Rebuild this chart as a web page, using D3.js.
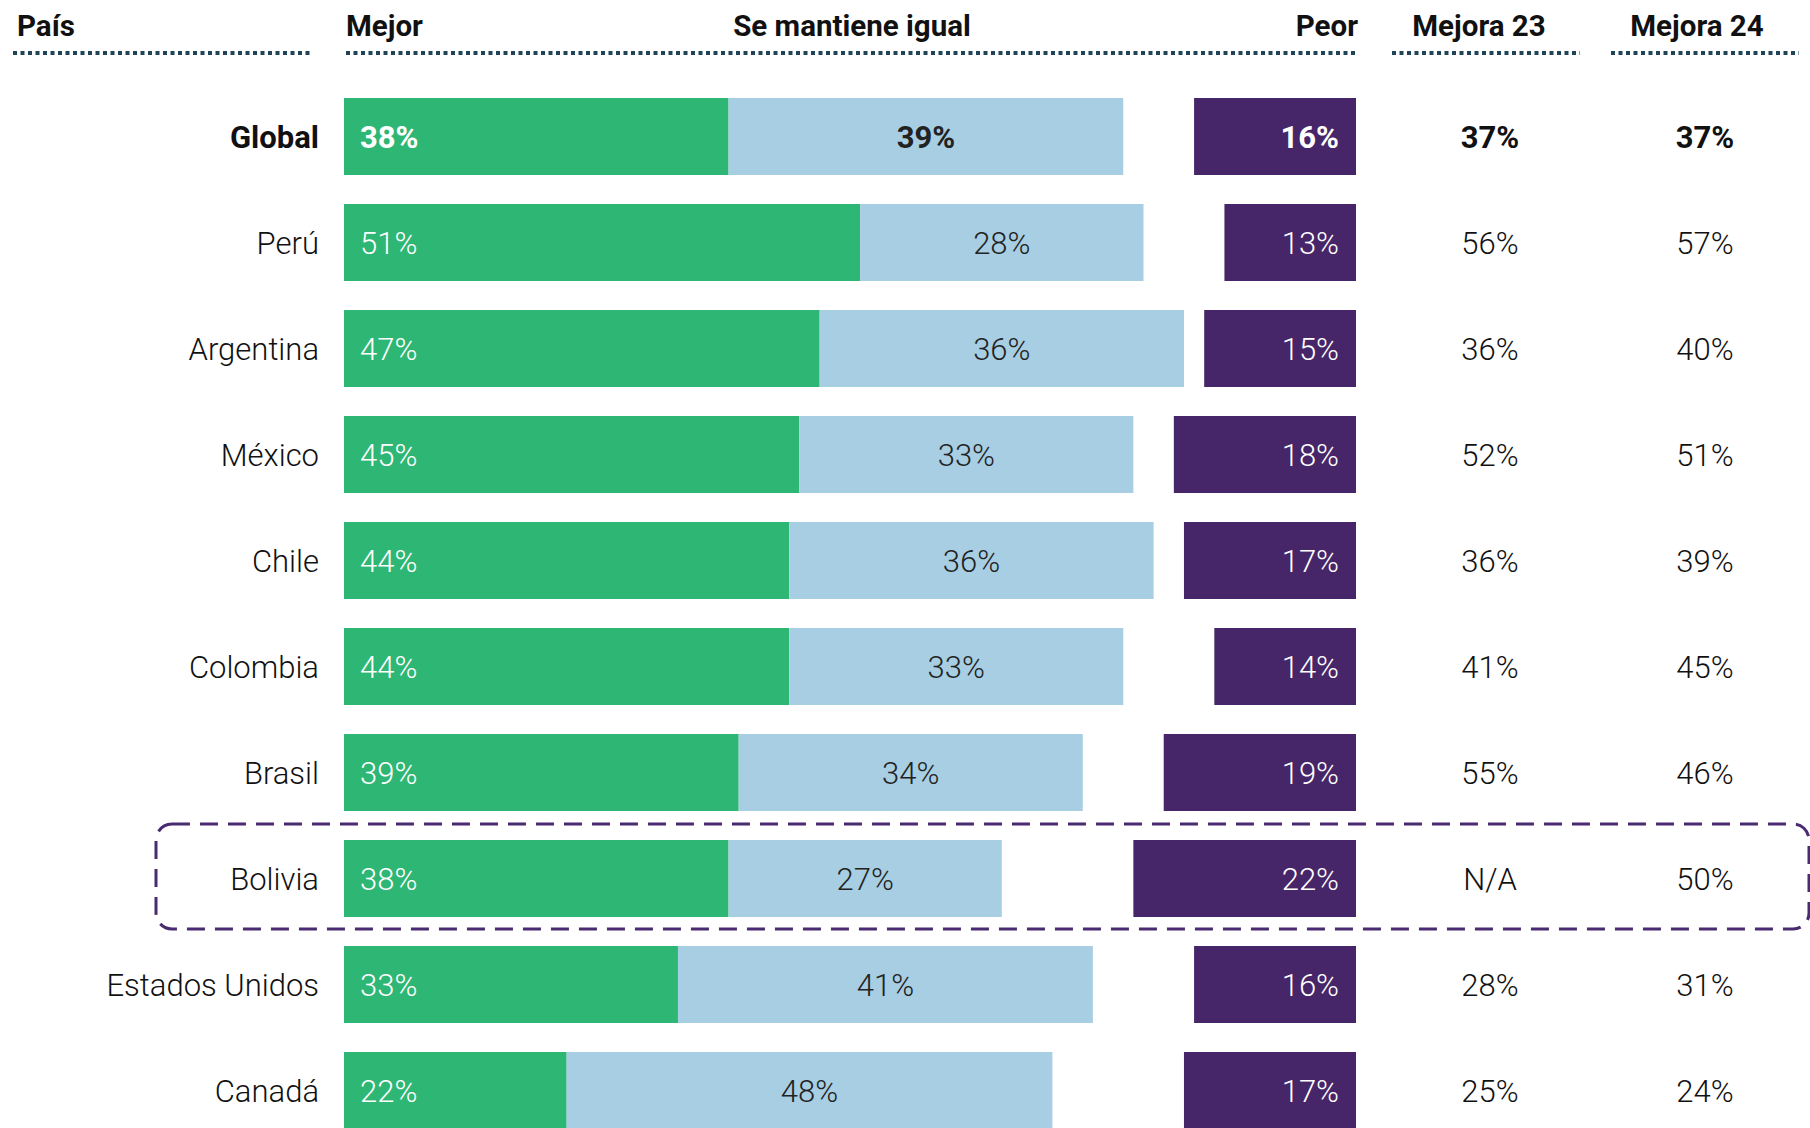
<!DOCTYPE html>
<html>
<head>
<meta charset="utf-8">
<script src="https://cdn.jsdelivr.net/npm/d3@7/dist/d3.min.js"></script>
<style>
  html, body { margin: 0; padding: 0; background: #ffffff; }
  svg { display: block; font-family: Roboto, "Noto Sans", sans-serif; }
</style>
</head>
<body>
<svg id="chart" width="1810" height="1128"></svg>
<script>
// ---- Data ----
const countries = ["Global", "Perú", "Argentina", "México", "Chile", "Colombia", "Brasil", "Bolivia", "Estados Unidos", "Canadá"];
const mejor  = [38, 51, 47, 45, 44, 44, 39, 38, 33, 22];
const igual  = [39, 28, 36, 33, 36, 33, 34, 27, 41, 48];
const peor   = [16, 13, 15, 18, 17, 14, 19, 22, 16, 17];
const mejora23 = ["37%", "56%", "36%", "52%", "36%", "41%", "55%", "N/A", "28%", "25%"];
const mejora24 = ["37%", "57%", "40%", "51%", "39%", "45%", "46%", "50%", "31%", "24%"];
const headers = ["País", "Mejor", "Se mantiene igual", "Peor", "Mejora 23", "Mejora 24"];
const highlighted = "Bolivia";

// ---- Layout ----
const svg = d3.select("#chart");
const barLeft = 344;
const peorRight = 1356;
const labelRight = 319;
const col23 = 1490, col24 = 1705;

const x = d3.scaleLinear().domain([0, 100]).range([0, 1012]);
const y = d3.scaleBand().domain(countries).range([98, 1129]).paddingInner(0.2736).paddingOuter(0);
const bw = y.bandwidth();

const colors = { mejor: "#2eb674", igual: "#a7cee2", peor: "#462568", dots: "#1f4457", box: "#4a2a70" };

const rows = countries.map((c, i) => ({
  country: c, mejor: mejor[i], igual: igual[i], peor: peor[i], m23: mejora23[i], m24: mejora24[i],
  bold: c === "Global"
}));

// ---- Headers ----
const hdrY = 36;
const hdr = svg.append("g").attr("font-weight", 700).attr("font-size", 29.5).attr("fill", "#111");
hdr.append("text").attr("x", 17).attr("y", hdrY).text(headers[0]);
hdr.append("text").attr("x", barLeft + 2).attr("y", hdrY).text(headers[1]);
hdr.append("text").attr("x", 852).attr("y", hdrY).attr("text-anchor", "middle").text(headers[2]);
hdr.append("text").attr("x", peorRight + 2).attr("y", hdrY).attr("text-anchor", "end").text(headers[3]);
hdr.append("text").attr("x", 1479).attr("y", hdrY).attr("text-anchor", "middle").text(headers[4]);
hdr.append("text").attr("x", 1697).attr("y", hdrY).attr("text-anchor", "middle").text(headers[5]);

// dotted rules
const dotY = 53;
[[13, 312], [346, 1358], [1392, 1580], [1611, 1799]].forEach(([a, b]) => {
  svg.append("line").attr("x1", a).attr("x2", b).attr("y1", dotY).attr("y2", dotY)
    .attr("stroke", colors.dots).attr("stroke-width", 4).attr("stroke-dasharray", "4,3.5");
});

// ---- Highlight box ----
svg.append("rect")
  .attr("x", 156).attr("y", y(highlighted) - 16)
  .attr("width", 1809 - 156).attr("height", bw + 28)
  .attr("rx", 16).attr("ry", 16)
  .attr("fill", "none").attr("stroke", colors.box).attr("stroke-width", 3)
  .attr("stroke-dasharray", "18,10");

// ---- Rows ----
const g = svg.append("g");
const row = g.selectAll("g.row").data(rows).join("g").attr("class", "row")
  .attr("transform", d => `translate(0,${y(d.country)})`);

row.append("rect").attr("x", barLeft).attr("y", 0).attr("height", bw)
  .attr("width", d => x(d.mejor)).attr("fill", colors.mejor);
row.append("rect").attr("x", d => barLeft + x(d.mejor)).attr("y", 0).attr("height", bw)
  .attr("width", d => x(d.igual)).attr("fill", colors.igual);
row.append("rect").attr("x", d => peorRight - x(d.peor)).attr("y", 0).attr("height", bw)
  .attr("width", d => x(d.peor)).attr("fill", colors.peor);

const fs = 31;
const textCommon = sel => sel.attr("y", bw / 2).attr("dy", "0.36em").attr("font-size", fs)
  .attr("font-weight", d => d.bold ? 700 : 300);

row.append("text").call(textCommon).attr("x", labelRight).attr("text-anchor", "end")
  .attr("fill", "#111").text(d => d.country);
row.append("text").call(textCommon).attr("x", barLeft + 16).attr("fill", "#fff")
  .text(d => d.mejor + "%");
row.append("text").call(textCommon).attr("x", d => barLeft + x(d.mejor) + x(d.igual) / 2)
  .attr("text-anchor", "middle").attr("fill", "#222").text(d => d.igual + "%");
row.append("text").call(textCommon).attr("x", peorRight - 17).attr("text-anchor", "end")
  .attr("fill", "#fff").text(d => d.peor + "%");
row.append("text").call(textCommon).attr("x", col23).attr("text-anchor", "middle")
  .attr("fill", "#111").text(d => d.m23);
row.append("text").call(textCommon).attr("x", col24).attr("text-anchor", "middle")
  .attr("fill", "#111").text(d => d.m24);
</script>
</body>
</html>
